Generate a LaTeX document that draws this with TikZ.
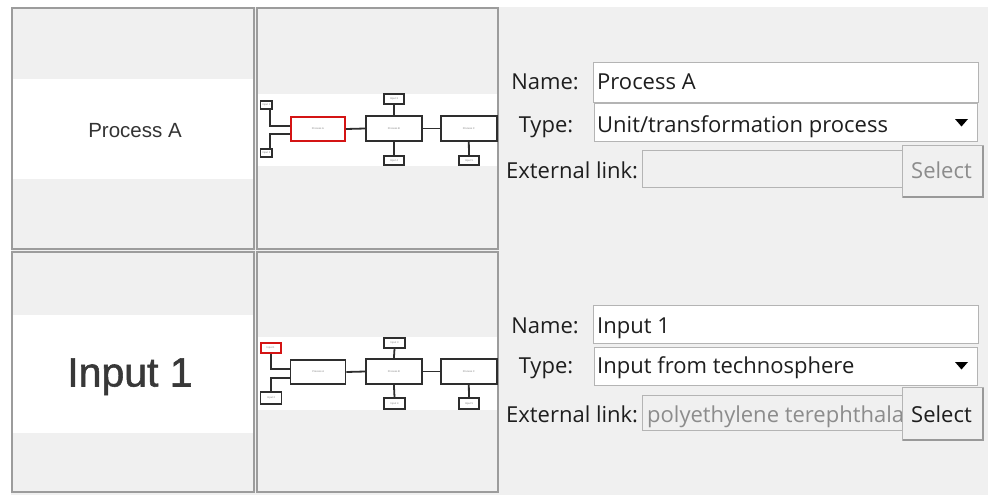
\documentclass[tikz,border=0pt]{standalone}
\usepackage{fontspec}
\setmainfont{Open Sans}
\newfontfamily\tilefont{Liberation Sans}
\newfontfamily\heavytilefont[FakeBold=1.3]{Liberation Sans}
\usetikzlibrary{calc}

\definecolor{panelbg}{HTML}{F0F0F0}
\definecolor{tileedge}{HTML}{9C9C9C}
\definecolor{fieldedge}{HTML}{B4B4B4}
\definecolor{minline}{HTML}{2E2E2E}
\definecolor{selred}{HTML}{D41414}
\definecolor{greytext}{HTML}{8C8C8C}
\definecolor{labeltext}{HTML}{1E1E1E}

\tikzset{
  tile/.style={draw=tileedge, line width=1.3pt, fill=panelbg},
  band/.style={fill=white, draw=none},
  minibox/.style={draw=minline, line width=1.5pt, fill=white, inner sep=0pt,
    font=\tilefont\fontsize{2.6}{3}\selectfont, text=gray},
  selbox/.style={minibox, draw=selred, line width=2.2pt},
  minilink/.style={draw=minline, line width=1.8pt},
  field/.style={draw=fieldedge, line width=0.9pt, fill=white},
  lockedfield/.style={draw=fieldedge, line width=0.9pt, fill=panelbg},
  formtext/.style={anchor=base west, inner sep=0pt, font=\fontsize{22}{26}\selectfont, text=labeltext},
  formlabel/.style={anchor=base, inner sep=0pt, font=\fontsize{22}{26}\selectfont, text=labeltext},
  buttonbox/.style={draw=fieldedge, line width=0.9pt, fill=panelbg},
  buttonshade/.style={draw=gray!80, line width=1.4pt},
}

\begin{document}
\begin{tikzpicture}[x=1pt,y=-1pt]
\useasboundingbox (0,0) rectangle (988,495);
\fill[white] (0,0) rectangle (988,495);
\fill[panelbg] (11,7) rectangle (988,495);

% ---------- tiles, top row ----------
\draw[tile] (12,8) rectangle (254,249);
\fill[band] (13,79) rectangle (253,179);
\node[inner sep=0pt, anchor=base, font=\tilefont\fontsize{20.5}{24}\selectfont, text=black!80]
  (titleA) at (135,137) {Process A};

\draw[tile] (257,8) rectangle (498,249);
\fill[band] (258,94) rectangle (497,166);

\node[selbox, minimum width=54pt, minimum height=24pt] (pA1) at (317.9,129) {Process A};
\node[minibox, minimum width=56pt, minimum height=25pt] (pB1) at (393.9,128.5) {Process B};
\node[minibox, minimum width=56pt, minimum height=25pt] (pC1) at (468.8,128.5) {Process C};
\node[minibox, minimum width=11.5pt, minimum height=8pt] (iTL1) at (266.3,105) {Input 1};
\node[minibox, minimum width=11.5pt, minimum height=8pt] (iBL1) at (266.3,153) {Input 2};
\node[minibox, minimum width=20pt, minimum height=10pt] (iTB1) at (394,99) {Input 3};
\node[minibox, minimum width=20pt, minimum height=9pt] (iBB1) at (394,160.5) {Input 4};
\node[minibox, minimum width=20pt, minimum height=9pt] (iBC1) at (469,160.5) {Input 5};

\draw[minilink] (pA1.east) -- (pB1.west);
\draw[minilink] (pB1.east) -- (pC1.west);
\draw[minilink] (iTB1.south) -- (pB1.north);
\draw[minilink] (pB1.south) -- (iBB1.north);
\draw[minilink] (pC1.south) -- (iBC1.north);
\draw[minilink] ([xshift=3.5pt]iTL1.south) |- ([yshift=3pt]pA1.west);
\draw[minilink] ([xshift=3.5pt]iBL1.north) |- ([yshift=-5pt]pA1.west);

% ---------- tiles, bottom row ----------
\draw[tile] (12,252) rectangle (254,492);
\fill[band] (13,315) rectangle (253,433);
\node[inner sep=0pt, anchor=base, font=\heavytilefont\fontsize{41}{48}\selectfont,
      text=black!78] (titleI) at (130,386.5) {Input 1};

\draw[tile] (257,252) rectangle (498,492);
\fill[band] (258,337) rectangle (497,410);

\node[minibox, minimum width=55pt, minimum height=24pt] (pA2) at (318.2,372) {Process A};
\node[minibox, minimum width=56pt, minimum height=25pt] (pB2) at (393.9,371.5) {Process B};
\node[minibox, minimum width=56pt, minimum height=25pt] (pC2) at (468.8,371.5) {Process C};
\node[selbox, minimum width=20pt, minimum height=10pt] (iTL2) at (270.7,348) {Input 1};
\node[minibox, minimum width=21pt, minimum height=12pt] (iBL2) at (271.2,398) {Input 2};
\node[minibox, minimum width=21pt, minimum height=10pt] (iTB2) at (394.5,343) {Input 3};
\node[minibox, minimum width=21pt, minimum height=11pt] (iBB2) at (394.5,403.5) {Input 4};
\node[minibox, minimum width=20pt, minimum height=11pt] (iBC2) at (469,403.5) {Input 5};

\draw[minilink] (pA2.east) -- (pB2.west);
\draw[minilink] (pB2.east) -- (pC2.west);
\draw[minilink] (iTB2.south) -- (pB2.north);
\draw[minilink] (pB2.south) -- (iBB2.north);
\draw[minilink] (pC2.south) -- (iBC2.north);
\draw[minilink] (iTL2.south) |- ([yshift=3pt]pA2.west);
\draw[minilink] (iBL2.north) |- ([yshift=-6pt]pA2.west);

% ---------- property form, top ----------
\draw[field] (593,62) rectangle (978,102);
\draw[field] (594,103) rectangle (977,141);
\draw[lockedfield] (642,150) rectangle (902,187);
\draw[buttonbox] (902,145) rectangle (983,197);
\draw[buttonshade] (903,197) -- (983,197) -- (983,146);

\node[formlabel] (nameL1) at (545,89) {Name:};
\node[formlabel] (typeL1) at (546,132) {Type:};
\node[formtext] (extL1) at (506,178) {External link:};
\node[formtext] (nameV1) at (597,89) {Process A};
\node[formtext] (typeV1) at (597,132) {Unit/transformation process};
\node[formtext, text=greytext] (selB1) at (911,178) {Select};
\fill[black] (955,119) -- (968,119) -- (961.5,126.5) -- cycle;

% ---------- property form, bottom ----------
\draw[field] (593,305) rectangle (978,343);
\draw[field] (594,347) rectangle (977,385);
\draw[lockedfield] (642,395) rectangle (902,430);
\draw[buttonbox] (902,387) rectangle (983,440);
\draw[buttonshade] (903,440) -- (983,440) -- (983,388);

\node[formlabel] (nameL2) at (545,333) {Name:};
\node[formlabel] (typeL2) at (546,373) {Type:};
\node[formtext] (extL2) at (506,422) {External link:};
\node[formtext] (nameV2) at (597,333) {Input 1};
\node[formtext] (typeV2) at (597,373) {Input from technosphere};
\begin{scope}
  \clip (643,396) rectangle (901,429);
  \node[formtext, text=greytext] (extV2) at (647,422) {polyethylene terephthala};
\end{scope}
\node[formtext] (selB2) at (911,422) {Select};
\fill[black] (955,362) -- (968,362) -- (961.5,369.5) -- cycle;
\end{tikzpicture}
\end{document}
